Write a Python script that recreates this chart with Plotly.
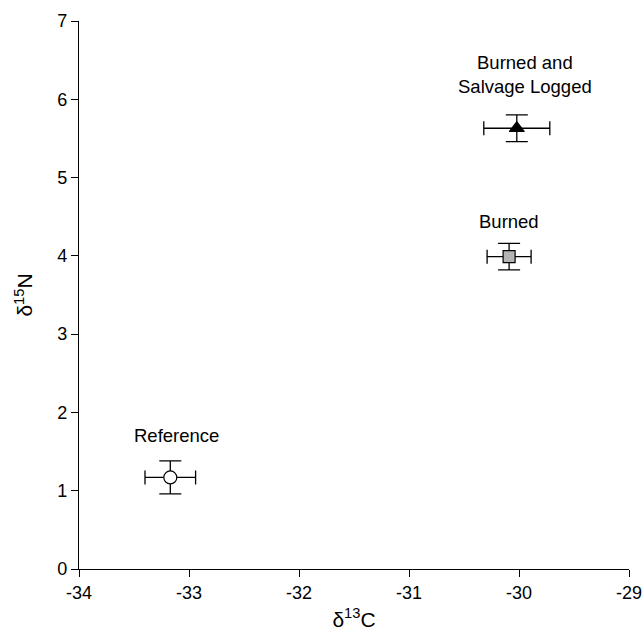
import plotly.graph_objects as go

groups = ["Reference", "Burned", "Burned and<br>Salvage Logged"]
d13c = [-33.17, -30.09, -30.02]
d13c_err = [0.23, 0.20, 0.30]
d15n = [1.17, 3.99, 5.63]
d15n_err = [0.21, 0.17, 0.17]
symbols = ["circle", "square", "triangle-up"]
fills = ["white", "#b4b4b4", "black"]
label_dy = [0.53, 0.45, 0.69]
label_dx_px = [6, 0, 8]

x_ticks = [-34, -33, -32, -31, -30, -29]
y_ticks = [0, 1, 2, 3, 4, 5, 6, 7]

fig = go.Figure()
for i in range(3):
    fig.add_trace(go.Scatter(
        x=[d13c[i]], y=[d15n[i]], mode="markers",
        marker=dict(symbol=symbols[i], size=12 if i == 1 else 13, color=fills[i],
                    line=dict(color="black", width=1.2)),
        error_x=dict(type="data", array=[d13c_err[i]], color="black", thickness=1.3, width=7),
        error_y=dict(type="data", array=[d15n_err[i]], color="black", thickness=1.3, width=11),
        showlegend=False))
    fig.add_annotation(x=d13c[i], y=d15n[i] + label_dy[i], text=groups[i],
                       xshift=label_dx_px[i],
                       showarrow=False, font=dict(size=18.5, color="black"),
                       xanchor="center", yanchor="middle")

fig.update_layout(
    width=644, height=639,
    margin=dict(l=79, r=15, t=21, b=70),
    plot_bgcolor="white", paper_bgcolor="white",
    font=dict(family="Liberation Sans, Arial, sans-serif", size=18, color="black"),
    xaxis=dict(range=[-34, -29], tickvals=x_ticks, ticktext=[str(v) for v in x_ticks],
               showgrid=False, zeroline=False, automargin=False,
               showline=True, linecolor="black", linewidth=1.3,
               ticks="outside", ticklen=7, tickcolor="black",
               title=dict(text="δ<sup>13</sup>C", font=dict(size=21), standoff=10)),
    yaxis=dict(range=[0, 7], tickvals=y_ticks, ticktext=[str(v) for v in y_ticks],
               showgrid=False, zeroline=False, automargin=False,
               showline=True, linecolor="black", linewidth=1.3,
               ticks="outside", ticklen=7, tickcolor="black",
               title=dict(text="δ<sup>15</sup>N", font=dict(size=21), standoff=18)),
)
fig.write_html("out.html")
